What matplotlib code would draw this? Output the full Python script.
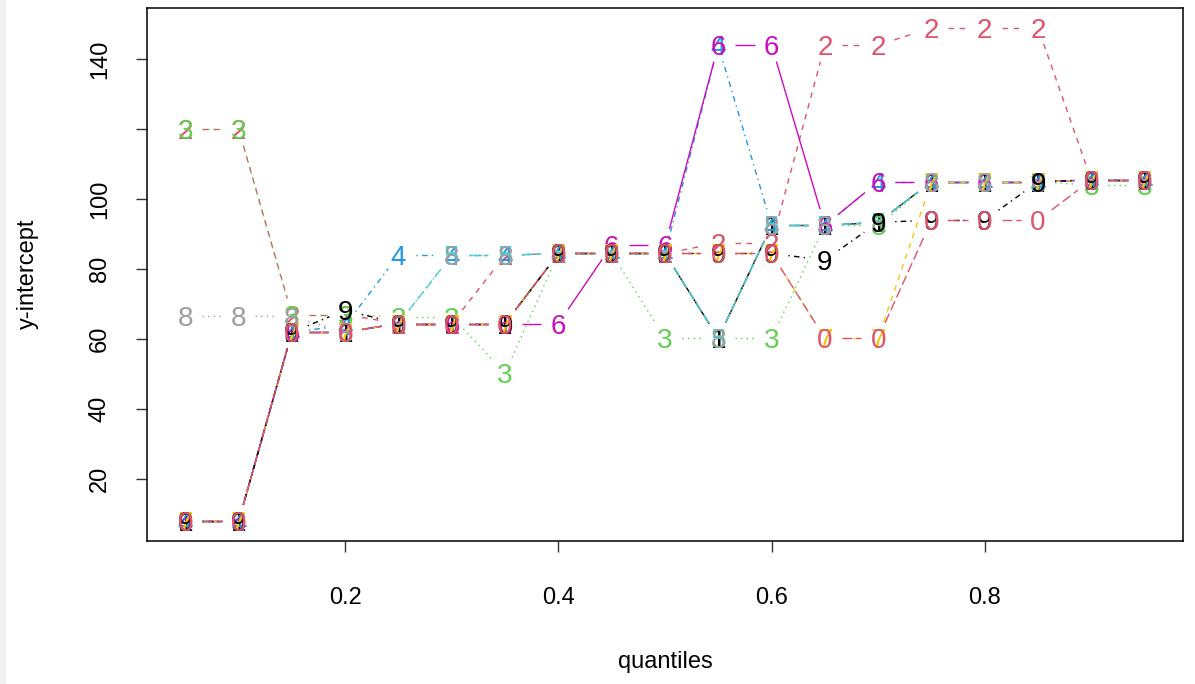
import matplotlib
matplotlib.use("Agg")
import matplotlib.pyplot as plt
from matplotlib.patches import Rectangle
import numpy as np

# ---- data -------------------------------------------------------------
quantiles = [0.05, 0.10, 0.15, 0.20, 0.25, 0.30, 0.35, 0.40, 0.45, 0.50,
             0.55, 0.60, 0.65, 0.70, 0.75, 0.80, 0.85, 0.90, 0.95]

series_symbols = ["1", "2", "3", "4", "5", "6", "7", "8", "9", "0"]

s1 = [8, 8, 62, 62, 64.5, 64.5, 64.5, 84.5, 84.5, 84.5, 60.3, 92.5, 92.5, 93.4, 105, 105, 105, 105.5, 105.5]
s2 = [120, 120, 67, 67, 64.5, 64.5, 84, 84.5, 84.5, 84.5, 87.5, 87.5, 144, 144, 149, 149, 149, 105.5, 105.5]
s3 = [120, 120, 67, 67, 66.5, 66.5, 50.3, 84.5, 84.5, 60.3, 60.3, 60.3, 92.5, 92.5, 105, 105, 105, 104, 104]
s4 = [8, 8, 62, 64, 84, 84, 84, 84.5, 84.5, 84.5, 144, 92.5, 92.5, 105, 105, 105, 105, 105.5, 105.5]
s5 = [8, 8, 62, 62, 64.5, 84, 84, 84.5, 84.5, 84.5, 60.3, 92.5, 92.5, 93.4, 105, 105, 105, 105.5, 105.5]
s6 = [8, 8, 62, 62, 64.5, 64.5, 64.5, 64.5, 86.8, 86.8, 144, 144, 92.5, 105, 105, 105, 105, 105.5, 105.5]
s7 = [8, 8, 62, 62, 64.5, 64.5, 64.5, 84.5, 84.5, 84.5, 84.5, 84.5, 60.3, 60.3, 105, 105, 105, 105.5, 105.5]
s8 = [66.6, 66.6, 66.5, 62, 64.5, 84, 84, 84.5, 84.5, 84.5, 60.3, 92.5, 92.5, 93.4, 105, 105, 105, 105.5, 105.5]
s9 = [8, 8, 62, 68.3, 64.5, 64.5, 64.5, 84.5, 84.5, 84.5, 84.5, 84.5, 82.6, 93.4, 94, 94, 105, 105.5, 105.5]
s10 = [8, 8, 62, 62, 64.5, 64.5, 64.5, 84.5, 84.5, 84.5, 84.5, 84.5, 60.3, 60.3, 94, 94, 94, 105.5, 105.5]

series = [s1, s2, s3, s4, s5, s6, s7, s8, s9, s10]

y_ticks = [20, 40, 60, 80, 100, 120, 140]
y_tick_labels = ["20", "40", "60", "80", "100", "", "140"]
x_ticks = [0.2, 0.4, 0.6, 0.8]
x_tick_labels = ["0.2", "0.4", "0.6", "0.8"]

# ---- style (R default palette, lty cycle 1:5) -------------------------
palette = ["#000000", "#DF536B", "#61D04F", "#2297E6", "#28E2E5",
           "#CD0BBC", "#F5C710", "#9E9E9E"]
lty = [(0, ()), (0, (4, 4)), (0, (1, 3)), (0, (1, 3, 4, 3)), (0, (7, 3))]

plt.rcParams["font.family"] = ["Liberation Sans", "DejaVu Sans"]

W, H = 1195, 684
fig = plt.figure(figsize=(W / 100, H / 100), dpi=100)
fig.patches.append(Rectangle((0, 0), 6 / W, 1, transform=fig.transFigure,
                             facecolor="#F0F0F0", edgecolor="none", zorder=0))

ax = fig.add_axes([147 / W, 1 - 541 / H, (1183 - 147) / W, 533 / H])

x = np.asarray(quantiles, dtype=float)
allv = np.concatenate([np.asarray(s, dtype=float) for s in series])
xr = x.max() - x.min()
yr = allv.max() - allv.min()
ax.set_xlim(x.min() - 0.04 * xr, x.max() + 0.04 * xr)
ax.set_ylim(allv.min() - 0.04 * yr, allv.max() + 0.04 * yr)

gap = 17.0  # px cleared around each plotted character
lw = 1.0
inv = ax.transData.inverted()
for i, vals in enumerate(series):
    col = palette[i % len(palette)]
    ls = lty[i % len(lty)]
    pts = ax.transData.transform(np.column_stack([x, np.asarray(vals, float)]))
    for k in range(len(pts) - 1):
        p0, p1 = pts[k], pts[k + 1]
        d = p1 - p0
        L = np.hypot(*d)
        if L <= 2 * gap:
            continue
        u = d / L
        a = inv.transform(p0 + u * gap)
        b = inv.transform(p1 - u * gap)
        ax.plot([a[0], b[0]], [a[1], b[1]], color=col, lw=lw,
                linestyle=ls, solid_capstyle="butt", dash_capstyle="butt",
                zorder=2 + i)
    for xi, yi in zip(x, vals):
        ax.text(xi, yi, series_symbols[i], color=col, fontsize=20,
                ha="center", va="center_baseline", zorder=2 + i)

ax.set_xticks(x_ticks)
ax.set_xticklabels(x_tick_labels)
ax.set_yticks(y_ticks)
ax.set_yticklabels(y_tick_labels, rotation=90, va="center")
ax.tick_params(axis="both", direction="out", length=8, width=1,
               labelsize=17, color="#333333")
ax.tick_params(axis="x", pad=25)
ax.tick_params(axis="y", pad=18)
for sp in ax.spines.values():
    sp.set_linewidth(1.1)
    sp.set_color("#000000")

fig.text(665 / W, 1 - 662 / H, "quantiles", ha="center", va="center", fontsize=17)
fig.text(28 / W, 1 - 274 / H, "y-intercept", ha="center", va="center",
         rotation=90, fontsize=17)

fig.savefig("out.png", dpi=100)
